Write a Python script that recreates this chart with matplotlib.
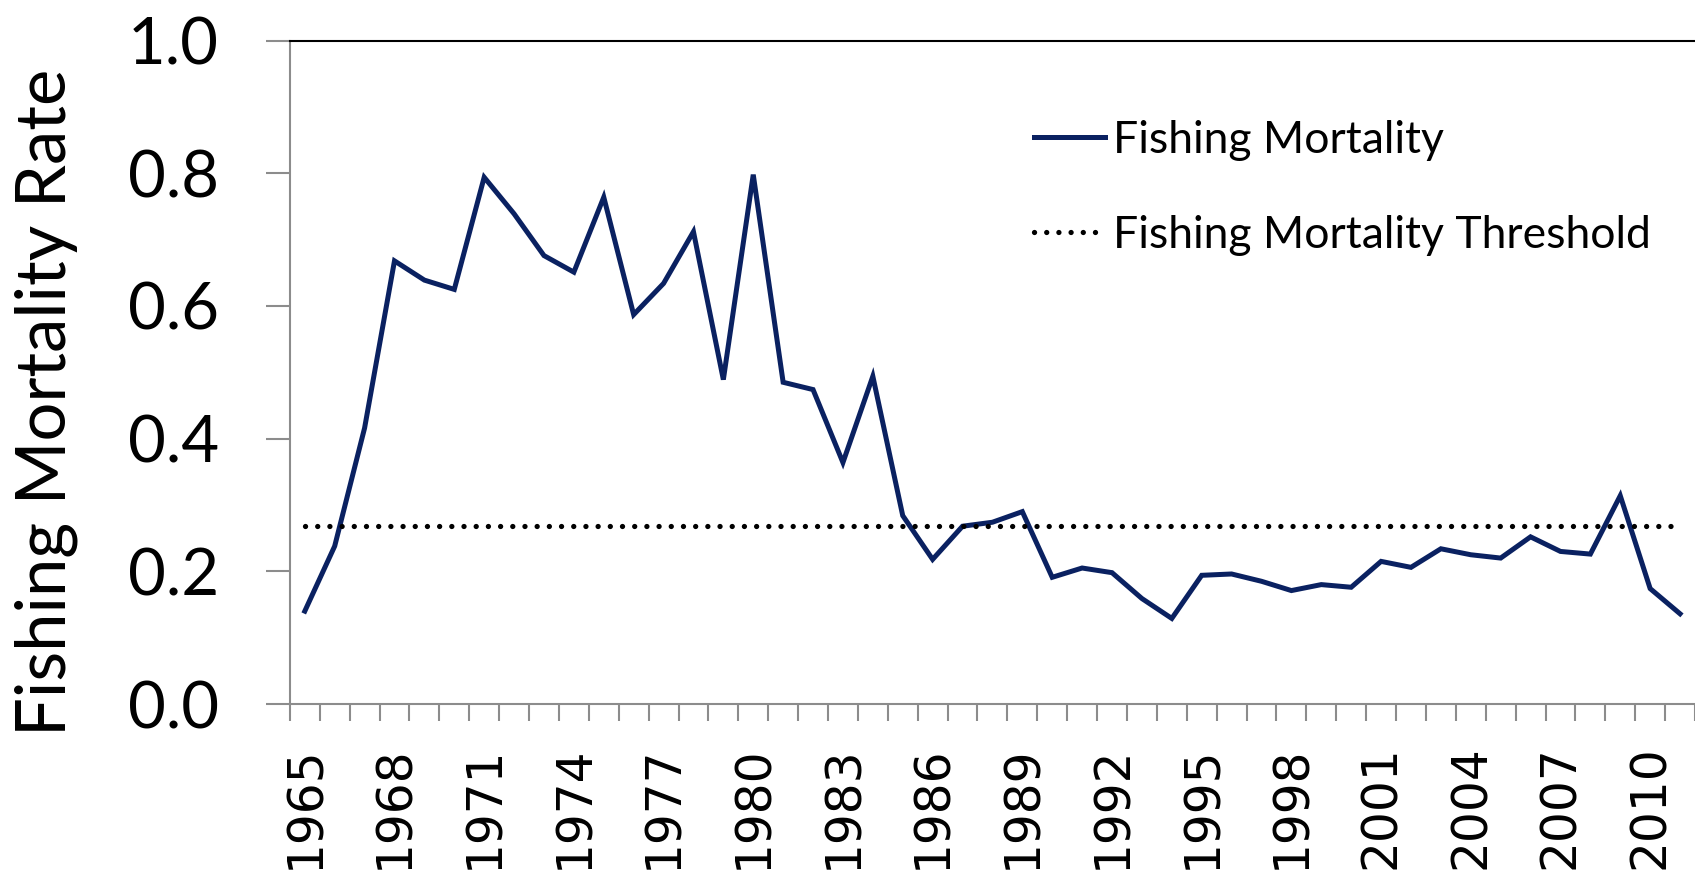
import matplotlib
matplotlib.use("Agg")
import matplotlib.pyplot as plt

# years on the category axis
years = list(range(1965, 2012))

# fishing mortality
mortality = [0.140, 0.238, 0.416, 0.668, 0.639, 0.625, 0.794, 0.739, 0.676, 0.651,
             0.764, 0.587, 0.634, 0.712, 0.489, 0.798, 0.485, 0.474, 0.364, 0.494,
             0.284, 0.218, 0.268, 0.274, 0.290, 0.191, 0.205, 0.198, 0.159, 0.129,
             0.194, 0.196, 0.185, 0.171, 0.180, 0.176, 0.215, 0.206, 0.234, 0.225,
             0.220, 0.252, 0.230, 0.226, 0.314, 0.174, 0.136]

threshold = 0.269

label_years = list(range(1965, 2011, 3))
y_ticks = [0.0, 0.2, 0.4, 0.6, 0.8, 1.0]

navy = '#0a2161'
grey = '#8c8c8c'

fig = plt.figure(figsize=(16.95, 8.74), dpi=100)
ax = fig.add_axes([0.171, 0.1945, 0.829, 0.759])

ax.plot(years, mortality, color=navy, lw=3.6, solid_joinstyle='miter',
        label='Fishing Mortality')
ax.plot([years[0], years[-1]], [threshold, threshold], color='black', lw=3.8,
        linestyle=(0, (0.01, 2.3)), dash_capstyle='round',
        label='Fishing Mortality Threshold')

ax.set_xlim(years[0] - 0.5, years[-1] + 0.5)
ax.set_ylim(0, 1)

# category ticks sit between the years, labels every third year
ax.set_xticks([y - 0.5 for y in years] + [years[-1] + 0.5], minor=True)
ax.set_xticks(label_years)
ax.set_xticklabels([str(y) for y in label_years], rotation=90,
                   fontsize=35, family='DejaVu Sans')
ax.tick_params(axis='x', which='major', length=0, pad=30)
ax.tick_params(axis='x', which='minor', length=12, width=1.5, color=grey)

ax.set_yticks(y_ticks)
ax.set_yticklabels(['%.1f' % v for v in y_ticks], fontsize=47, family='Lato')
ax.tick_params(axis='y', length=17, width=1.5, color=grey, pad=34)

ax.spines['left'].set_color(grey)
ax.spines['bottom'].set_color(grey)
ax.spines['left'].set_linewidth(1.5)
ax.spines['bottom'].set_linewidth(1.5)
ax.spines['top'].set_color('black')
ax.spines['top'].set_linewidth(1.5)
ax.spines['right'].set_visible(False)

ax.set_ylabel('Fishing Mortality Rate', fontsize=49.5, family='Lato')
ax.yaxis.set_label_coords(-0.151, 0.455)

leg = ax.legend(loc='upper left', bbox_to_anchor=(0.610, 0.863),
                bbox_transform=fig.transFigure, frameon=False,
                prop={'family': 'Lato', 'size': 32}, handlelength=1.6,
                handletextpad=0.18, labelspacing=1.22, borderpad=0,
                borderaxespad=0)

fig.savefig('out.png', dpi=100)
